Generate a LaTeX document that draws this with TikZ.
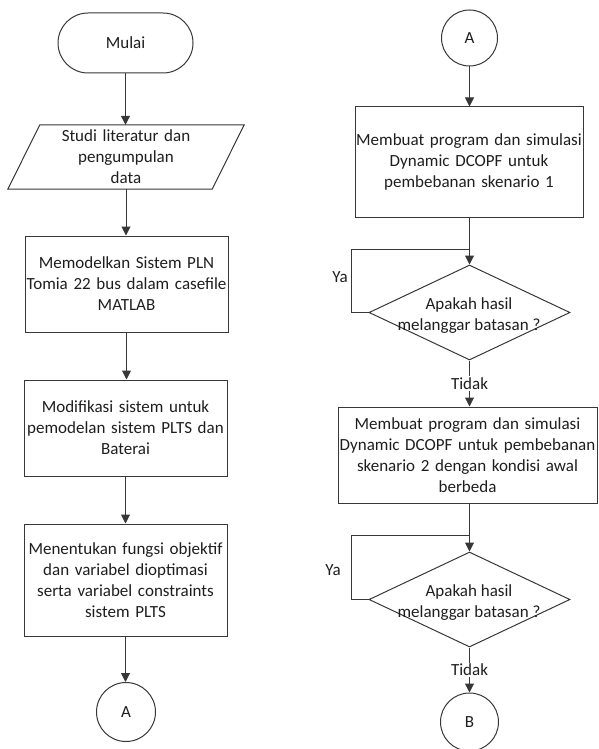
\documentclass[tikz,border=0pt]{standalone}
\usepackage{fontspec}
\setmainfont{Carlito}
\usetikzlibrary{arrows.meta,shapes.geometric,calc}
\definecolor{ln}{RGB}{55,55,55}
\definecolor{tx}{RGB}{30,30,30}
\begin{document}
\begin{tikzpicture}[x=1pt,y=-1pt,
  every node/.style={font=\fontsize{17}{21}\selectfont, text=tx},
  line/.style={draw=ln, line width=1pt},
  arr/.style={line, -{Triangle[width=9pt,length=9pt]}},
  procbox/.style={line, rectangle, align=center, inner ysep=0pt, inner xsep=-6pt},
  termbox/.style={line, rectangle, rounded corners=30pt, minimum width=135pt, minimum height=60pt, inner sep=0pt},
  iobox/.style={rectangle, align=center, inner ysep=0pt, inner xsep=-6pt, minimum width=204pt, minimum height=64pt, text width=216pt},
  decbox/.style={line, diamond, inner sep=0pt, minimum width=201pt, minimum height=95pt},
  conn/.style={line, circle, inner sep=0pt},
  lbl/.style={inner sep=1.5pt, fill=white}
]
\useasboundingbox (0,0) rectangle (598,749);

% ---------- left column ----------
\node[termbox] (mulai) at (125.5,43) {Mulai};
\node[iobox] (studi) at (126,157) {Studi literatur dan\\pengumpulan\\data};
\draw[line] ([xshift=16pt]studi.north west) -- ([xshift=16pt]studi.north east)
  -- ([xshift=-16pt]studi.south east) -- ([xshift=-16pt]studi.south west) -- cycle;
\node[procbox, minimum width=203pt, minimum height=96pt, text width=215pt] (model) at (126.5,284)
  {Memodelkan Sistem PLN\\Tomia 22 bus dalam casefile\\MATLAB};
\node[procbox, minimum width=203pt, minimum height=96pt, text width=215pt] (modif) at (125.5,428)
  {Modifikasi sistem untuk\\pemodelan sistem PLTS dan\\Baterai};
\node[procbox, minimum width=203pt, minimum height=112pt, text width=215pt] (tentu) at (125.5,580)
  {Menentukan fungsi objektif\\dan variabel dioptimasi\\serta variabel constraints\\sistem PLTS};
\node[conn, minimum size=59pt] (a1) at (126,712) {A};

\draw[arr] (mulai.south) -- (mulai.south |- studi.north);
\draw[arr] (studi.south) -- (studi.south |- model.north);
\draw[arr] (model.south) -- (model.south |- modif.north);
\draw[arr] (modif.south) -- (modif.south |- tentu.north);
\draw[arr] (tentu.south) -- (tentu.south |- a1.north);

% ---------- right column ----------
\node[conn, minimum size=56pt] (a2) at (469.5,38) {A};
\node[procbox, minimum width=228pt, minimum height=110pt, text width=240pt] (r1) at (469,162)
  {Membuat program dan simulasi\\Dynamic DCOPF untuk\\pembebanan skenario 1};
\node[decbox] (d1) at (469.5,312.5) {};
\node (d1t) at (469,316) [align=center, inner sep=0pt] {Apakah hasil\\melanggar batasan ?};
\node[procbox, minimum width=259pt, minimum height=96pt, text width=271pt] (r2) at (467.5,455)
  {Membuat program dan simulasi\\Dynamic DCOPF untuk pembebanan\\skenario 2 dengan kondisi awal\\berbeda};
\node[decbox] (d2) at (469.5,599.5) {};
\node (d2t) at (469,603) [align=center, inner sep=0pt] {Apakah hasil\\melanggar batasan ?};
\node[conn, minimum size=58pt] (b) at (469.5,722) {B};

\coordinate (j1) at (469.5,249);
\coordinate (j2) at (469.5,535);

\draw[arr] (a2.south) -- (a2.south |- r1.north);
\draw[arr] (r1.south -| d1.north) -- (d1.north);
\draw[line] (d1.west) -- ([xshift=-17pt]d1.west) |- (j1);
\node (ya1) at (340,277) {Ya};
\draw[arr] (d1.south) -- node[lbl] (t1) {Tidak} (d1.south |- r2.north);
\draw[arr] (r2.south -| d2.north) -- (d2.north);
\draw[line] (d2.west) -- ([xshift=-17pt]d2.west) |- (j2);
\node (ya2) at (333,570) {Ya};
\draw[arr] (d2.south) -- node[lbl] (t2) {Tidak} (b.north);
\end{tikzpicture}
\end{document}
